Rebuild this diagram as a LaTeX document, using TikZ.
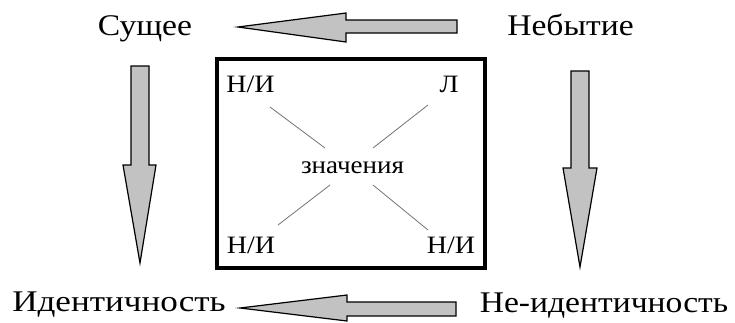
\documentclass[tikz,border=0pt]{standalone}
\usepackage{fontspec}
\setmainfont{Liberation Serif}
\begin{document}
\begin{tikzpicture}[x=1pt,y=-1pt,
  outer/.style={inner sep=0pt,anchor=base,font=\fontsize{30}{30}\selectfont},
  inner/.style={inner sep=0pt,anchor=base,font=\fontsize{25}{25}\selectfont},
  blockarrow/.style={fill=black!24,draw=black,line width=1.2pt,line join=miter},
  frame/.style={draw=black,line width=4pt},
  spoke/.style={draw=black!55,line width=0.8pt}]
\useasboundingbox (0,0) rectangle (735,322);
% labels
\node[outer] (s) at (145,35) {\scalebox{1.12}[1]{Сущее}};
\node[outer] (n) at (570.5,35) {\scalebox{1.12}[1]{Небытие}};
\node[outer] (i) at (119,311) {\scalebox{1.17}[1]{Идентичность}};
\node[outer] (ni) at (604,312) {\scalebox{1.12}[1]{Не-идентичность}};
% frame
\draw[frame] (217,59) rectangle (485,268);
\node[inner] (tl) at (250.5,92) {\scalebox{1.12}[1]{Н/И}};
\node[inner] (tr) at (449,92) {\scalebox{1.12}[1]{Л}};
\node[inner] (c) at (352.5,173) {\scalebox{1.08}[1]{значения}};
\node[inner] (bl) at (251,253) {\scalebox{1.12}[1]{Н/И}};
\node[inner] (br) at (451,253) {\scalebox{1.12}[1]{Н/И}};
% spokes
\coordinate (tl1) at (270,107); \coordinate (tl2) at (325,148);
\coordinate (tr1) at (428,105); \coordinate (tr2) at (373,148);
\coordinate (bl1) at (330,185); \coordinate (bl2) at (278,225);
\coordinate (br1) at (373,185); \coordinate (br2) at (428,230);
\draw[spoke] (tl1) -- (tl2);
\draw[spoke] (tr1) -- (tr2);
\draw[spoke] (bl1) -- (bl2);
\draw[spoke] (br1) -- (br2);
% block arrows
% top: Небытие -> Сущее
\draw[blockarrow] (457,20) -- (346,20) -- (346,13) -- (238,27) -- (346,42) -- (346,33) -- (457,33) -- cycle;
% bottom: Не-идентичность -> Идентичность
\draw[blockarrow] (456,302) -- (347,302) -- (347,295) -- (240,308) -- (347,321) -- (347,316) -- (456,316) -- cycle;
% left: Сущее -> Идентичность
\draw[blockarrow] (131,66) -- (149,66) -- (149,165) -- (156,165) -- (140,263) -- (123,165) -- (131,165) -- cycle;
% right: Небытие -> Не-идентичность
\draw[blockarrow] (571,71) -- (589,71) -- (589,168) -- (597,168) -- (580,267) -- (563,168) -- (571,168) -- cycle;
\end{tikzpicture}
\end{document}
